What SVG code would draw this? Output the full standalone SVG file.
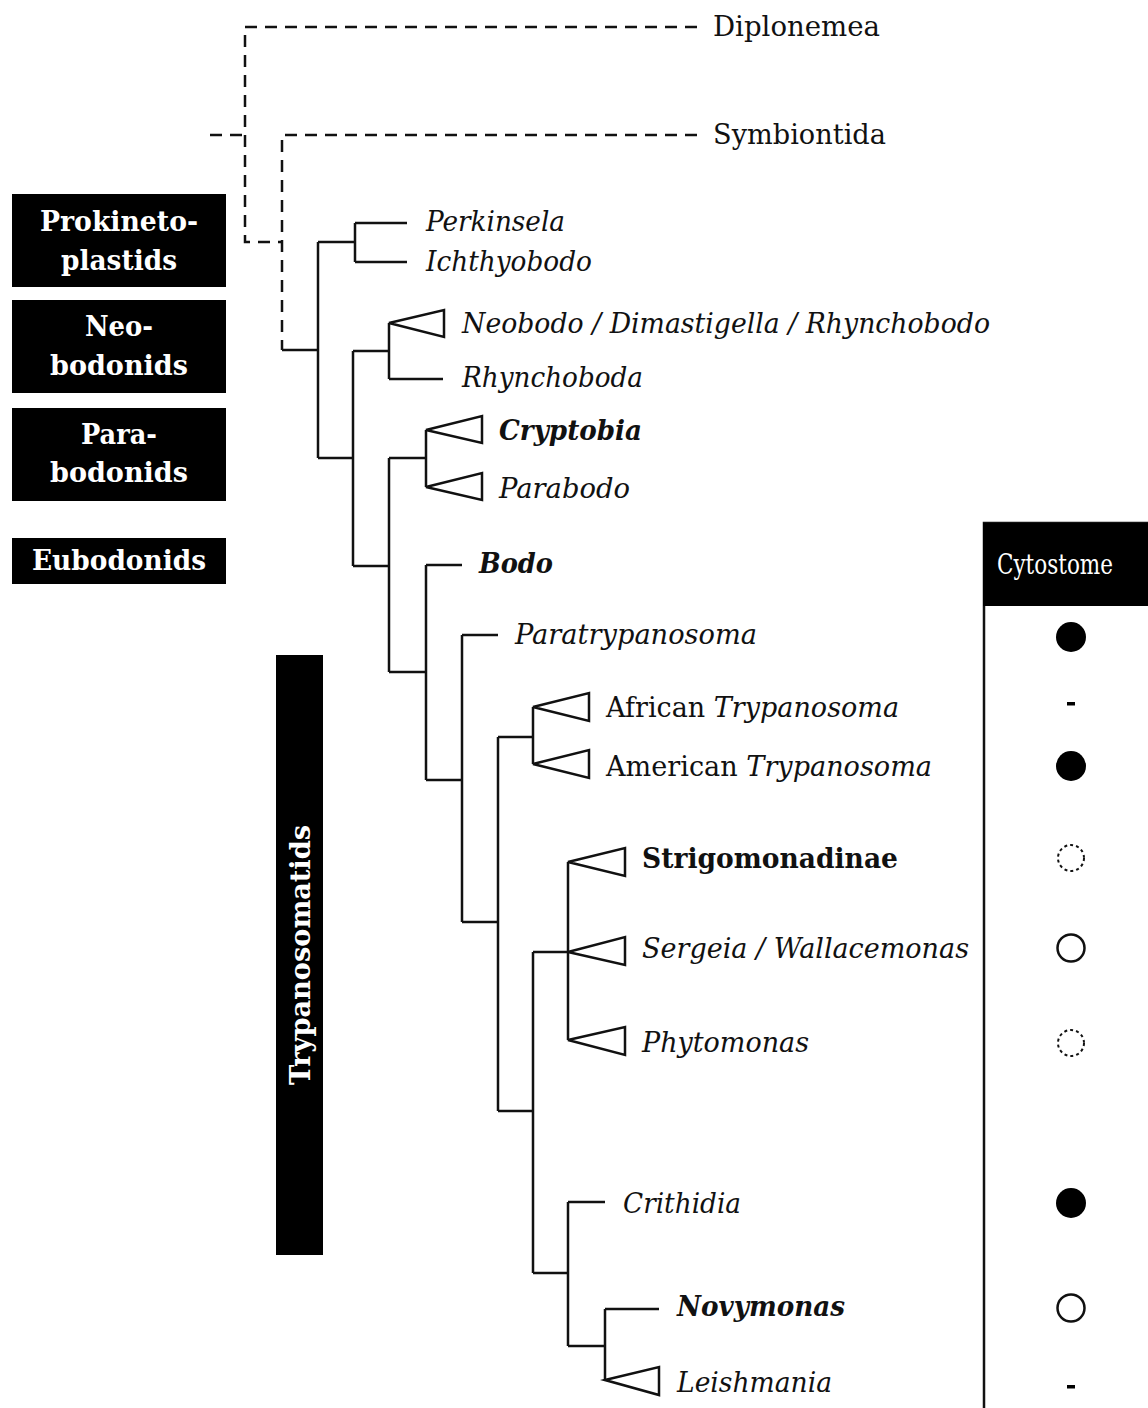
<svg xmlns="http://www.w3.org/2000/svg" width="1148" height="1408" viewBox="0 0 1148 1408">
<style>
.t{font-family:"DejaVu Serif","Liberation Serif",serif;font-size:28px;fill:#111}
.i{font-style:italic}
.b{font-weight:bold}
.w{fill:#fff;font-weight:bold;text-anchor:middle}
.br{stroke:#111;stroke-width:2.5;fill:none}
.ds{stroke:#111;stroke-width:2.5;fill:none;stroke-dasharray:12 8}
.tri{stroke:#111;stroke-width:2.5;fill:#fff;stroke-linejoin:miter}
.box{fill:#000}
</style>
<rect width="1148" height="1408" fill="#fff"/>
<g id="connectors">
<path class="ds" d="M697 27 H245 V242 H282"/>
<path class="ds" d="M210 135 H245"/>
<path class="ds" d="M697 135 H282 V350"/>
<path class="br" d="M282 350 H318"/>
<path class="br" d="M318 242 V458"/>
<path class="br" d="M318 242 H355 M355 223 V262 M355 223 H407 M355 262 H407"/>
<path class="br" d="M318 458 H353 M353 351 V566 M353 351 H389 M389 323 V379 M389 379 H443"/>
<path class="br" d="M353 566 H389 M389 458 V672 M389 458 H426 M426 430 V487"/>
<path class="br" d="M389 672 H426 M426 565 V780 M426 565 H462"/>
<path class="br" d="M426 780 H462 M462 635 V922 M462 635 H498"/>
<path class="br" d="M462 922 H498 M498 737 V1111 M498 737 H533 M533 707 V764"/>
<path class="br" d="M498 1111 H533 M533 952 V1273 M533 952 H568 M568 862 V1040"/>
<path class="br" d="M533 1273 H568 M568 1202 V1346 M568 1202 H605"/>
<path class="br" d="M568 1346 H605 M605 1309 V1380 M605 1309 H659"/>
</g>
<g id="n-diplonemea"><text class="t" x="713" y="36" textLength="167" lengthAdjust="spacingAndGlyphs">Diplonemea</text></g>
<g id="n-symbiontida"><text class="t" x="713" y="144" textLength="173" lengthAdjust="spacingAndGlyphs">Symbiontida</text></g>
<g id="n-perkinsela"><text class="t i" x="426" y="231" textLength="139" lengthAdjust="spacingAndGlyphs">Perkinsela</text></g>
<g id="n-ichthyobodo"><text class="t i" x="426" y="271" textLength="166" lengthAdjust="spacingAndGlyphs">Ichthyobodo</text></g>
<g id="n-neobodo"><path class="tri" d="M389 323 L444 310 V337 Z"/><text class="t i" x="462" y="333" textLength="528" lengthAdjust="spacingAndGlyphs">Neobodo / Dimastigella / Rhynchobodo</text></g>
<g id="n-rhynchoboda"><text class="t i" x="462" y="387" textLength="181" lengthAdjust="spacingAndGlyphs">Rhynchoboda</text></g>
<g id="n-cryptobia"><path class="tri" d="M426 430 L482 416 V443 Z"/><text class="t i b" x="499" y="440" textLength="143" lengthAdjust="spacingAndGlyphs">Cryptobia</text></g>
<g id="n-parabodo"><path class="tri" d="M426 487 L482 473 V500 Z"/><text class="t i" x="499" y="498" textLength="131" lengthAdjust="spacingAndGlyphs">Parabodo</text></g>
<g id="n-bodo"><text class="t i b" x="479" y="573" textLength="74" lengthAdjust="spacingAndGlyphs">Bodo</text></g>
<g id="n-paratrypanosoma"><text class="t i" x="515" y="644" textLength="242" lengthAdjust="spacingAndGlyphs">Paratrypanosoma</text></g>
<g id="n-african"><path class="tri" d="M533 707 L589 693 V721 Z"/><text class="t" x="606" y="717" textLength="293" lengthAdjust="spacingAndGlyphs">African <tspan class="i">Trypanosoma</tspan></text></g>
<g id="n-american"><path class="tri" d="M533 764 L589 750 V778 Z"/><text class="t" x="606" y="776" textLength="326" lengthAdjust="spacingAndGlyphs">American <tspan class="i">Trypanosoma</tspan></text></g>
<g id="n-strigomonadinae"><path class="tri" d="M568 862 L625 848 V876 Z"/><text class="t b" x="642" y="868" textLength="256" lengthAdjust="spacingAndGlyphs">Strigomonadinae</text></g>
<g id="n-sergeia"><path class="tri" d="M568 952 L625 937 V965 Z"/><text class="t i" x="642" y="958" textLength="327" lengthAdjust="spacingAndGlyphs">Sergeia / Wallacemonas</text></g>
<g id="n-phytomonas"><path class="tri" d="M568 1040 L625 1027 V1055 Z"/><text class="t i" x="642" y="1052" textLength="167" lengthAdjust="spacingAndGlyphs">Phytomonas</text></g>
<g id="n-crithidia"><text class="t i" x="623" y="1213" textLength="118" lengthAdjust="spacingAndGlyphs">Crithidia</text></g>
<g id="n-novymonas"><text class="t i b" x="677" y="1316" textLength="168" lengthAdjust="spacingAndGlyphs">Novymonas</text></g>
<g id="n-leishmania"><path class="tri" d="M605 1380 L659 1367 V1395 Z"/><text class="t i" x="677" y="1392" textLength="155" lengthAdjust="spacingAndGlyphs">Leishmania</text></g>
<g id="lbl-prokinetoplastids"><rect class="box" x="12" y="194" width="214" height="93"/><text class="t w" x="119" y="231" textLength="158" lengthAdjust="spacingAndGlyphs">Prokineto-</text><text class="t w" x="119" y="270" textLength="116" lengthAdjust="spacingAndGlyphs">plastids</text></g>
<g id="lbl-neobodonids"><rect class="box" x="12" y="300" width="214" height="93"/><text class="t w" x="119" y="336" textLength="68" lengthAdjust="spacingAndGlyphs">Neo-</text><text class="t w" x="119" y="375" textLength="138" lengthAdjust="spacingAndGlyphs">bodonids</text></g>
<g id="lbl-parabodonids"><rect class="box" x="12" y="408" width="214" height="93"/><text class="t w" x="119" y="444" textLength="76" lengthAdjust="spacingAndGlyphs">Para-</text><text class="t w" x="119" y="482" textLength="138" lengthAdjust="spacingAndGlyphs">bodonids</text></g>
<g id="lbl-eubodonids"><rect class="box" x="12" y="538" width="214" height="46"/><text class="t w" x="119" y="570" textLength="174" lengthAdjust="spacingAndGlyphs">Eubodonids</text></g>
<g id="lbl-trypanosomatids"><rect class="box" x="276" y="655" width="47" height="600"/><text class="t w" transform="translate(310 955) rotate(-90)" x="0" y="0" textLength="260" lengthAdjust="spacingAndGlyphs">Trypanosomatids</text></g>
<g id="cytostome">
<rect x="984" y="523" width="180" height="900" fill="none" stroke="#111" stroke-width="2.5"/>
<rect class="box" x="983" y="523" width="165" height="83"/>
<text class="t" x="1055" y="574" fill="#fff" style="fill:#fff;text-anchor:middle" textLength="116" lengthAdjust="spacingAndGlyphs">Cytostome</text>
<circle cx="1071" cy="637" r="15" fill="#000"/>
<rect x="1067" y="702" width="8" height="3.5" fill="#000"/>
<circle cx="1071" cy="766" r="15" fill="#000"/>
<circle cx="1071" cy="858" r="13" fill="none" stroke="#111" stroke-width="2" stroke-dasharray="3 3"/>
<circle cx="1071" cy="948" r="13.5" fill="none" stroke="#111" stroke-width="2.5"/>
<circle cx="1071" cy="1043" r="13" fill="none" stroke="#111" stroke-width="2" stroke-dasharray="3 3"/>
<circle cx="1071" cy="1203" r="15" fill="#000"/>
<circle cx="1071" cy="1308" r="13.5" fill="none" stroke="#111" stroke-width="2.5"/>
<rect x="1067" y="1385" width="8" height="3.5" fill="#000"/>
</g>
</svg>
